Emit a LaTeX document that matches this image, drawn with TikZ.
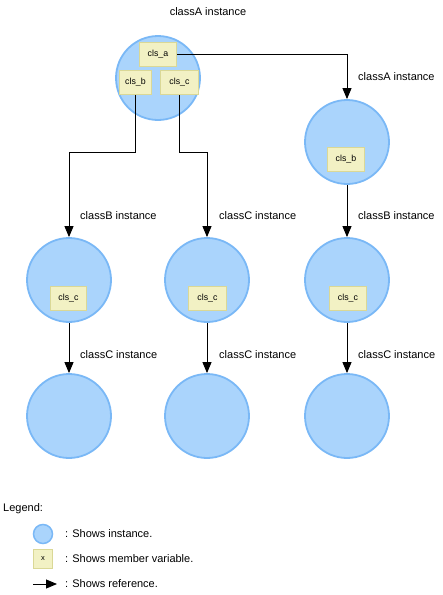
\documentclass[tikz,border=0pt]{standalone}
\usepackage{fontspec}
\setmainfont{Liberation Sans}
\usetikzlibrary{arrows.meta}
\definecolor{instfill}{RGB}{170,212,252}
\definecolor{instline}{RGB}{122,184,246}
\definecolor{varfill}{RGB}{242,241,196}
\definecolor{varline}{RGB}{218,216,150}
\tikzset{
	inst/.style={circle,draw=instline,fill=instfill,line width=1.8pt,minimum size=84pt,inner sep=0pt},
	var/.style={rectangle,draw=varline,fill=varfill,line width=1pt,inner sep=0pt,minimum height=24pt,font=\fontsize{8.8}{10}\selectfont},
	ref/.style={line width=.9pt,-{Triangle[length=11pt,width=9pt]}},
	lbl/.style={anchor=west,inner sep=0pt,font=\fontsize{11}{13}\selectfont}
}
\begin{document}
\begin{tikzpicture}[x=1pt,y=-1pt]
		\useasboundingbox (0,0) rectangle (443,595);
		% instances
		\node[inst](instA) at (158,78){};
		\node[inst](instA2) at (347,142){};
		\node[inst](instB) at (69,280){};
		\node[inst](instC) at (207,280){};
		\node[inst](instB2) at (347,280){};
		\node[inst](instC1) at (69,416){};
		\node[inst](instC2) at (207,416){};
		\node[inst](instC3) at (347,416){};
		% member variables
		\node[var,minimum width=37pt](clsa) at (158,54.5){cls\_a};
		\node[var,minimum width=32pt](clsb) at (135.5,82.5){cls\_b};
		\node[var,minimum width=38pt](clsc) at (179.5,82.5){cls\_c};
		\node[var,minimum width=37pt](clsb2) at (346,159.5){cls\_b};
		\node[var,minimum width=36pt](clscB) at (68.5,298.5){cls\_c};
		\node[var,minimum width=38pt](clscC) at (207.5,298.5){cls\_c};
		\node[var,minimum width=37pt](clscB2) at (348,298){cls\_c};
		% references
		\draw[ref](clsa.east) -| (instA2.north);
		\draw[ref](clsb.south) -- ++(0,57.5) -| (instB.north);
		\draw[ref](clsc.south) -- ++(0,57.5) -| (instC.north);
		\draw[ref](instA2.south) -- (instB2.north);
		\draw[ref](instB.south) -- (instC1.north);
		\draw[ref](instC.south) -- (instC2.north);
		\draw[ref](instB2.south) -- (instC3.north);
		% labels
		\node[lbl,anchor=center](tA) at (208,12){classA instance};
		\node[lbl](tA2) at (358,77){classA instance};
		\node[lbl](tB) at (80,216){classB instance};
		\node[lbl](tC) at (219,216){classC instance};
		\node[lbl](tB2) at (358,216){classB instance};
		\node[lbl](tC1) at (80,355){classC instance};
		\node[lbl](tC2) at (219,355){classC instance};
		\node[lbl](tC3) at (358,355){classC instance};
		% legend
		\node[lbl](legend) at (3,509){Legend:};
		\node[circle,draw=instline,fill=instfill,line width=1.5pt,minimum size=19pt,inner sep=0pt](keyinst) at (43,534){};
		\node[var,minimum width=19pt,minimum height=19pt,font=\fontsize{7.5}{8}\selectfont](keyvar) at (43,559){x};
		\coordinate(keyfrom) at (33,584);
		\coordinate(keyto) at (57,584);
		\draw[ref](keyfrom) -- (keyto);
		\node[lbl](tinst) at (65,534){: Shows instance.};
		\node[lbl](tvar) at (65,559){: Shows member variable.};
		\node[lbl](tref) at (65,584){: Shows reference.};
	    \end{tikzpicture}
\end{document}
